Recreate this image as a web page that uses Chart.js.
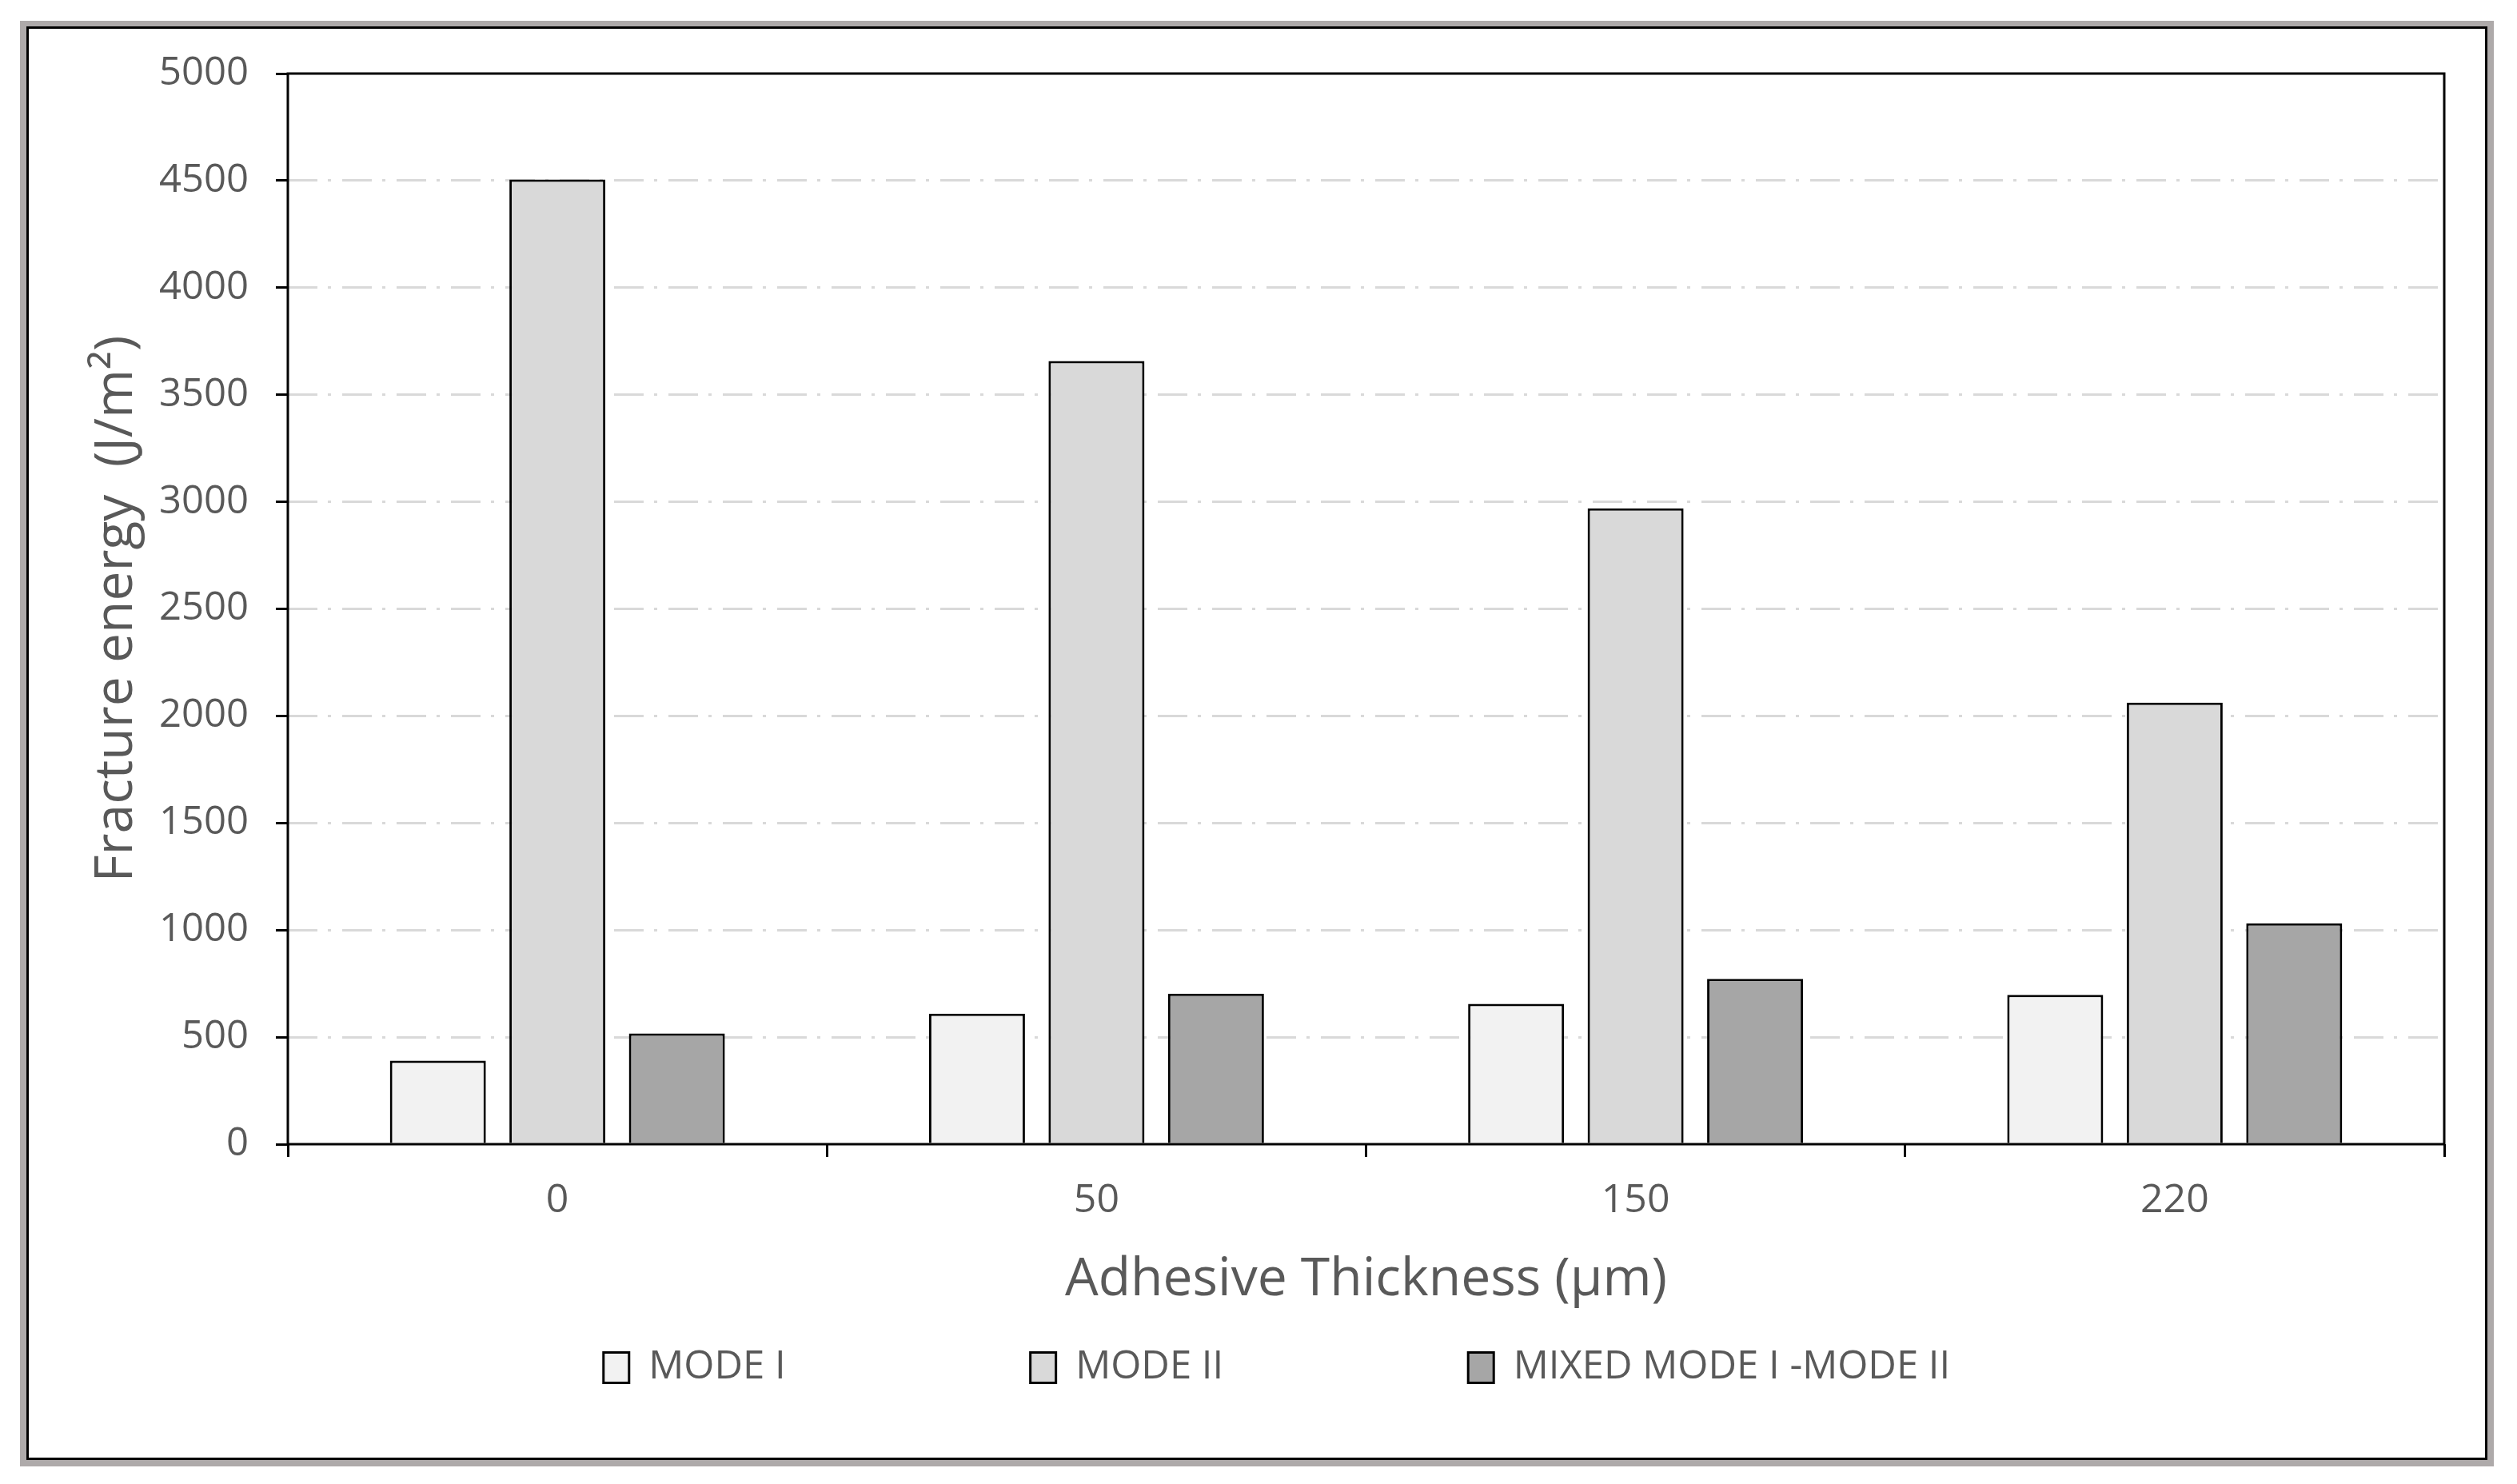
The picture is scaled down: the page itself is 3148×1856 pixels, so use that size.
<!DOCTYPE html>
<html>
<head>
<meta charset="utf-8">
<script src="https://cdn.jsdelivr.net/npm/chart.js@4/dist/chart.umd.min.js"></script>
<style>
  html, body { margin: 0; padding: 0; background: #ffffff; }
  #wrap { position: relative; width: 3148px; height: 1856px; overflow: hidden; background: #ffffff; }
  #frameOuter { position: absolute; left: 25px; top: 26px; width: 3094px; height: 1808px; box-sizing: border-box; border: 8px solid #aeaaaa; }
  #frameInner { position: absolute; left: 33px; top: 33px; width: 3078px; height: 1793px; box-sizing: border-box; border: 3px solid #000000; }
  #chart { position: absolute; left: 0; top: 0; }
</style>
</head>
<body>
<div id="wrap">
  <div id="frameOuter"></div>
  <div id="frameInner"></div>
  <canvas id="chart" width="3148" height="1856"></canvas>
</div>
<script>
// ---- data ----
const categories = ['0', '50', '150', '220'];
const seriesNames = ['MODE I', 'MODE II', 'MIXED MODE I -MODE II'];
const modeI = [390, 610, 655, 697];
const modeII = [4505, 3658, 2970, 2062];
const mixedMode = [517, 703, 772, 1032];
const yMin = 0;
const yMax = 5000;
const yStep = 500;
const xTitle = 'Adhesive Thickness (\u00b5m)';
const yTitle = 'Fracture energy  (J/m\u00b2)';

// ---- style ----
const TEXT = '#595959';
const FONT = "'Open Sans', 'DejaVu Sans', sans-serif";
Chart.defaults.font.family = FONT;
Chart.defaults.color = TEXT;

const plotFrame = {
  id: 'plotFrame',
  afterDatasetsDraw(chart) {
    const { ctx, chartArea: a } = chart;
    ctx.save();
    ctx.strokeStyle = '#000000';
    ctx.lineWidth = 3;
    ctx.strokeRect(a.left, a.top, a.right - a.left, a.bottom - a.top);
    ctx.restore();
  }
};

const LEGEND_FONT = 49;
const LEGEND_ITEM_TOP = 1686;
const LEGEND_CENTER_X = 1597;
const legendPlace = {
  id: 'legendPlace',
  afterLayout(chart) {
    const lg = chart.legend;
    if (!lg) return;
    const p = lg.options.labels.padding;
    lg.top = LEGEND_ITEM_TOP - p;
    lg.bottom = LEGEND_ITEM_TOP + 70;
    lg.left = LEGEND_CENTER_X - 1500;
    lg.right = LEGEND_CENTER_X + 1500;
  }
};

function mk(label, data, color) {
  return {
    label: label,
    data: data,
    backgroundColor: color,
    borderColor: '#000000',
    borderWidth: 3,
    categoryPercentage: 0.665,
    barPercentage: 0.803
  };
}

new Chart(document.getElementById('chart'), {
  type: 'bar',
  data: {
    labels: categories,
    datasets: [
      mk(seriesNames[0], modeI, '#f2f2f2'),
      mk(seriesNames[1], modeII, '#d9d9d9'),
      mk(seriesNames[2], mixedMode, '#a6a6a6')
    ]
  },
  options: {
    responsive: false,
    animation: false,
    devicePixelRatio: 1,
    layout: { padding: { top: 92, left: 0, right: 91, bottom: 117 } },
    plugins: {
      title: { display: false },
      tooltip: { enabled: false },
      legend: {
        display: true,
        position: 'bottom',
        maxHeight: 60,
        labels: {
          color: TEXT,
          font: { size: LEGEND_FONT, family: FONT },
          boxWidth: 32,
          boxHeight: 38,
          padding: 306
        }
      }
    },
    scales: {
      x: {
        type: 'category',
        offset: true,
        afterFit(scale) { scale.height = 248; },
        grid: {
          display: true,
          offset: true,
          drawOnChartArea: false,
          drawTicks: true,
          tickLength: 16,
          tickColor: '#000000',
          tickWidth: 3,
          color: '#000000'
        },
        border: { display: false },
        ticks: {
          color: TEXT,
          font: { size: 50, family: FONT },
          padding: 25,
          maxRotation: 0
        },
        title: {
          display: true,
          text: xTitle,
          color: TEXT,
          font: { size: 66, family: FONT },
          padding: { top: 0, bottom: 38 }
        }
      },
      y: {
        type: 'linear',
        min: yMin,
        max: yMax,
        afterFit(scale) { scale.width = 360; },
        grid: {
          display: true,
          drawOnChartArea: true,
          drawTicks: true,
          tickLength: 15,
          tickColor: '#000000',
          tickWidth: 3,
          lineWidth: 3,
          color: (c) => (c.tick && (c.tick.value === yMin || c.tick.value === yMax)) ? 'rgba(0,0,0,0)' : '#d9d9d9'
        },
        border: { display: false, dash: [37, 13, 4, 14] },
        ticks: {
          stepSize: yStep,
          color: TEXT,
          font: { size: 49, family: FONT },
          padding: 34,
          callback: (v) => String(v)
        },
        title: {
          display: true,
          text: yTitle,
          color: TEXT,
          font: { size: 66, family: FONT },
          padding: { top: 107, bottom: 0 }
        }
      }
    }
  },
  plugins: [plotFrame, legendPlace]
});
</script>
</body>
</html>
